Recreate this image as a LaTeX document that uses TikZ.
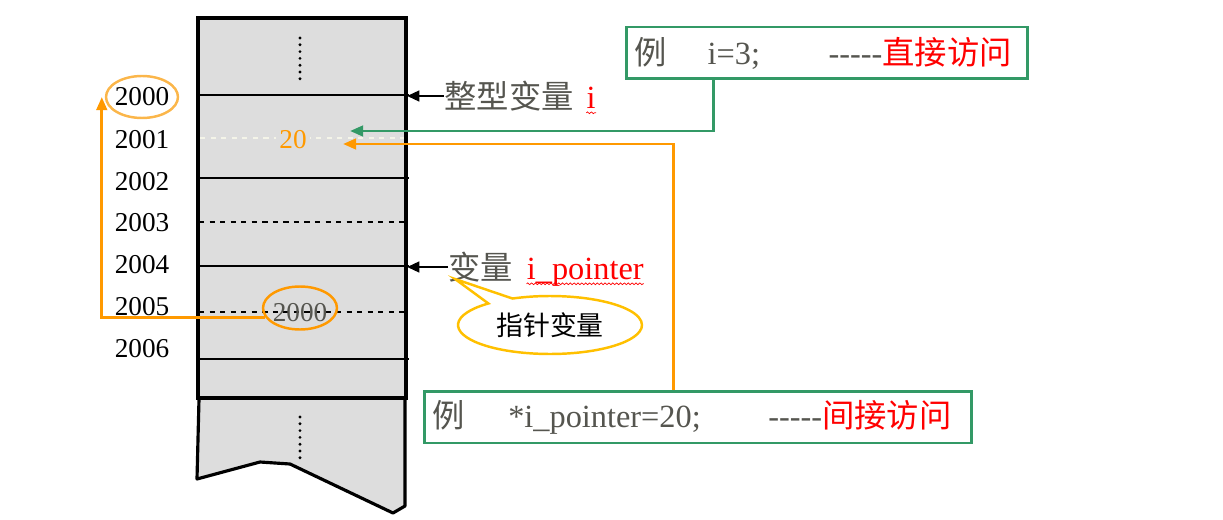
\documentclass[tikz,border=0pt]{standalone}
\usepackage{fontspec}
\setmainfont{Liberation Serif}
\newfontfamily\cjk{Noto Sans CJK SC}
\usetikzlibrary{arrows.meta,positioning,shapes.geometric,shapes.callouts,decorations.pathmorphing}
\definecolor{MemGray}{HTML}{DDDDDD}
\definecolor{DashPale}{HTML}{F4F4E8}
\definecolor{InkGray}{HTML}{55554F}
\definecolor{CodeGreen}{HTML}{339966}
\definecolor{PtrOrange}{HTML}{FF9900}
\definecolor{RingOrange}{HTML}{FBB64A}
\definecolor{NoteYellow}{HTML}{FFC000}
\definecolor{ErrRed}{HTML}{FF0000}
\newcommand\dashrun{-\kern0pt-\kern0pt-\kern0pt-\kern0pt-}

\begin{document}
\begin{tikzpicture}[x=0.02cm,y=-0.02cm,
  addr/.style={inner sep=0pt,font=\fontsize{15.5}{18}\selectfont},
  rowline/.style={line width=.6pt},
  memcol/.style={draw,line width=2.1pt,fill=MemGray},
  codebox/.style={draw=CodeGreen,line width=1.7pt,fill=white,inner xsep=0.16cm,
    inner ysep=0pt,minimum height=1.04cm,align=left,text=InkGray,
    font=\fontsize{18.4}{22}\selectfont},
  varlabel/.style={inner sep=0pt,text=InkGray,font=\cjk\fontsize{18.4}{22}\selectfont},
  varname/.style={inner sep=0pt,text=ErrRed,font=\fontsize{18.4}{22}\selectfont},
  spellwave/.style={draw=ErrRed,line width=.4pt,decorate,
    decoration={snake,amplitude=.5pt,segment length=2.2pt}},
  markarrow/.style={-{Triangle[length=7pt,width=6pt]},line width=1.5pt},
  greenlink/.style={-{Triangle[length=7.5pt,width=6pt]},line width=1.7pt,draw=CodeGreen},
  orangelink/.style={-{Triangle[length=7.5pt,width=6pt]},line width=1.7pt,draw=PtrOrange},
  ring/.style={ellipse,draw,line width=1.4pt,inner sep=0pt}
]
\useasboundingbox (0,0) rectangle (1223,520);
% memory column
\filldraw[fill=MemGray,line width=1.8pt,line join=round]
  (199,399) -- (197,479) -- (260,462) -- (290,464) -- (393,513) -- (405,506) -- (405,399);
\draw[memcol] (198,18) rectangle (406,398);
\foreach \y in {95,178,266,359} \draw[rowline] (199,\y) -- (409,\y);
\foreach \y in {222,312} \draw[rowline,dashed] (199,\y) -- (406,\y);
\draw[rowline,dashed,draw=DashPale] (200,138) -- (404,138);
\foreach \k in {0,...,6} {
  \fill (300,38+6.8*\k) circle (.9pt);
  \fill (300,417+6.8*\k) circle (.9pt);
}
% addresses
\foreach \a/\y in {2000/97,2001/140,2002/182,2003/223,2004/265,2005/307,2006/349}
  \node[addr] (a\a) at (142,\y) {\a};
\node[ring,draw=RingOrange,minimum width=1.44cm,minimum height=0.84cm] (hit) at (a2000) {};
% cell contents
\node[addr,text=PtrOrange,fill=MemGray,inner sep=2pt] (val) at (293,140) {20};
\node[ring,draw=PtrOrange,minimum width=1.48cm,minimum height=0.86cm] (ptrval) at (300,308) {};
\node[addr,text=InkGray] (ptrtext) at (300,313) {2000};
% variable names
\coordinate (colside) at (407,0);
\node[varlabel,anchor=west] (lab1) at (444,96) {整型变量};
\node[varname,anchor=base west] (lab1v) at ([xshift=7pt]lab1.base east) {i};
\draw[spellwave] ([yshift=-2.5pt]lab1v.base west) -- ([yshift=-2.5pt]lab1v.base east);
\draw[markarrow] (lab1.west) -- (lab1.west -| colside);
\node[varlabel,anchor=west] (lab2) at (448,267) {变量};
\node[varname,anchor=base west] (lab2v) at ([xshift=7.5pt]lab2.base east) {i\_pointer};
\draw[spellwave] ([yshift=-2.5pt]lab2v.base west) -- ([yshift=-2.5pt]lab2v.base east);
\draw[markarrow] (lab2.west) -- (lab2.west -| colside);
\coordinate (tailtip) at (455,279);
\node[ellipse callout,draw=NoteYellow,line width=1.4pt,fill=white,minimum width=3.68cm,
  minimum height=1.16cm,inner sep=0pt,callout absolute pointer={(tailtip)},
  callout pointer arc=18,font=\cjk\fontsize{15.3}{18}\selectfont] (note) at (550,325) {指针变量};
% access statements
\node[codebox,text width=7.72cm] (direct) at (827,53)
  {{\cjk 例}\hspace{23.5pt}i=3;\hspace{39pt}\dashrun\textcolor{ErrRed}{\cjk 直接访问}};
\node[codebox,text width=10.64cm] (indirect) at (698,417)
  {{\cjk 例}\hspace{25pt}*i\_pointer=20;\hspace{38.5pt}\dashrun\textcolor{ErrRed}{\cjk 间接访问}};
\coordinate (gdrop) at (713,0);
\coordinate (gtip) at (350,131);
\draw[greenlink] (direct.south -| gdrop) |- (gtip);
\coordinate (odrop) at (673,0);
\coordinate (otip) at (343,144);
\draw[orangelink] (indirect.north -| odrop) |- (otip);
\draw[orangelink] (ptrval.195) -| ([xshift=-0.06cm]hit.west);
\end{tikzpicture}
\end{document}
